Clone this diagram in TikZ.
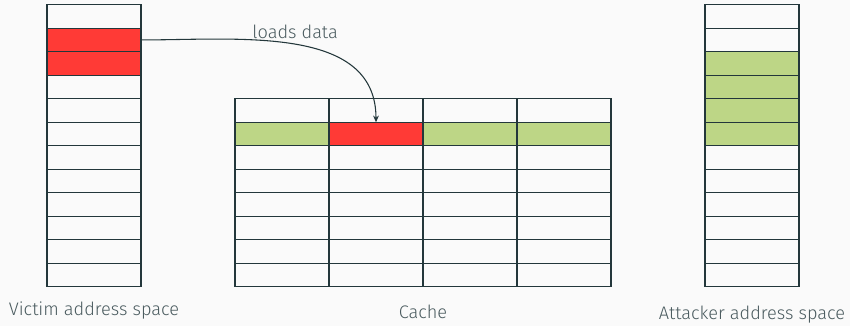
\documentclass[tikz,border=0pt]{standalone}
\usepackage{fontspec}
\setmainfont{Fira Sans Light}
\usetikzlibrary{arrows.meta}
\definecolor{bg}{HTML}{FAFAFA}
\definecolor{lc}{HTML}{23373B}
\definecolor{txt}{HTML}{4A5B5F}
\definecolor{hotred}{HTML}{FF3A36}
\definecolor{lgreen}{HTML}{BDD686}
\tikzset{
  cell/.style={draw=lc, line width=0.65pt, minimum width=2cm, minimum height=0.5cm, inner sep=0pt, outer sep=0pt},
  redcell/.style={cell, fill=hotred},
  greencell/.style={cell, fill=lgreen},
  lbl/.style={text=txt, font=\fontsize{11}{13}\selectfont, inner sep=0pt},
  arrowline/.style={draw=lc, line width=0.65pt, -{Stealth[length=4pt,width=3.5pt]}}
}
\begin{document}
\begin{tikzpicture}
\fill[bg] (0,0.1) rectangle (18.085,-6.836);
\useasboundingbox (0,0.1) rectangle (18.085,-6.836);
% victim
\foreach \i in {1,...,12} {
  \pgfmathsetmacro\yy{-0.25-0.5*(\i-1)}
  \ifnum\i=2 \node[redcell] (v\i) at (2,\yy) {};
  \else\ifnum\i=3 \node[redcell] (v\i) at (2,\yy) {};
  \else \node[cell] (v\i) at (2,\yy) {};
  \fi\fi
}
% attacker
\foreach \i in {1,...,12} {
  \pgfmathsetmacro\yy{-0.25-0.5*(\i-1)}
  \pgfmathtruncatemacro\isg{(\i>2)&&(\i<7)}
  \ifnum\isg=1 \node[greencell] (a\i) at (16,\yy) {};
  \else \node[cell] (a\i) at (16,\yy) {};
  \fi
}
% cache
\foreach \r in {1,...,8} {
  \foreach \k in {1,...,4} {
    \pgfmathsetmacro\yy{-2.25-0.5*(\r-1)}
    \pgfmathsetmacro\xx{4+2*\k}
    \ifnum\r=2
      \ifnum\k=2 \node[redcell] (c\r\k) at (\xx,\yy) {};
      \else \node[greencell] (c\r\k) at (\xx,\yy) {};
      \fi
    \else \node[cell] (c\r\k) at (\xx,\yy) {};
    \fi
  }
}
\node[lbl] (vl) at (2,-6.5) {Victim address space};
\node[lbl] (cl) at (9,-6.54) {Cache};
\node[lbl] (al) at (16,-6.6) {Attacker address space};
\node[lbl] (ld) at (6.28,-0.58) {loads data};
\draw[arrowline] (v2.east) to[out=0,in=90] (c22.north);
\end{tikzpicture}
\end{document}
